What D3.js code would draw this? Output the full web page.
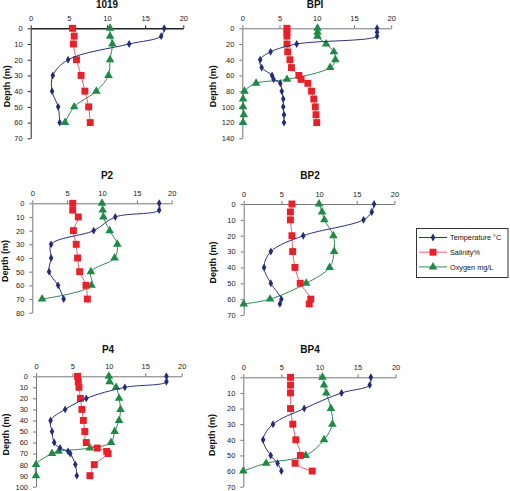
<!DOCTYPE html>
<html><head><meta charset="utf-8">
<script src="https://cdn.jsdelivr.net/npm/d3@7"></script>
<style>
html,body{margin:0;padding:0;background:#fff;}
svg{display:block;font-family:"Liberation Sans",Arial,sans-serif;}
</style></head>
<body><svg id="c" width="510" height="491"></svg>
<script>
// ---- data ----
const stations = ["1019","BPI","P2","BP2","P4","BP4"];
const xTicks = [0,5,10,15,20];
const seriesNames = ["Temperature °C","Salinity%","Oxygen mg/L"];

const depth1019 = [0,5,10,20,30,40,50,60];
const temp1019  = [17.5,17.1,12.9,4.9,2.9,2.8,3.6,3.8];
const sal1019   = [5.5,5.7,5.6,6.0,6.6,7.1,7.6,7.8];
const oxy1019   = [10.4,10.4,10.7,10.4,10.2,8.6,5.7,4.5];

const depthBPI = [0,5,10,20,30,40,50,60,65,70,80,90,100,110,120];
const tempBPI  = [18.1,18.1,18.1,7.3,3.8,2.4,2.6,4.0,4.2,5.1,5.3,5.5,5.5,5.6,5.6];
const salBPI   = [6.0,6.0,6.0,6.0,6.1,6.4,6.6,7.6,7.9,8.8,9.3,9.6,9.8,9.9,10.0];
const oxyBPI   = [10.1,10.1,10.1,11.25,12.3,12.5,11.8,null,6.0,1.85,0.3,0.1,0.1,0.2,0.1];

const depthP2 = [0,5,10,20,30,40,50,60,70];
const tempP2  = [18.2,18.2,11.9,8.8,2.7,2.7,2.4,3.7,4.5];
const salP2   = [5.8,5.8,6.6,5.9,6.3,6.5,6.8,7.7,7.9];
const oxyP2   = [10.0,10.1,10.2,11.1,12.2,11.8,8.4,8.5,1.4];

const depthBP2 = [0,5,10,20,30,40,50,60,63];
const tempBP2  = [17.3,17.0,15.9,7.9,3.6,2.7,3.6,5.0,4.8];
const salBP2   = [6.4,6.2,6.2,6.4,6.5,6.8,7.5,8.9,8.7];
const oxyBP2   = [10.0,10.4,10.7,11.9,12.0,11.4,8.3,3.5,0];

const depthP4 = [0,5,10,20,30,40,50,60,65,68,70,80,90];
const tempP4  = [17.9,17.9,12.2,6.9,4.0,2.0,2.2,2.5,3.3,4.4,4.7,5.4,5.6];
const salP4   = [5.7,5.8,5.9,6.1,6.3,6.5,6.7,6.9,8.4,9.7,9.9,8.0,7.4];
const oxyP4   = [10.0,10.1,11.0,11.4,11.6,11.4,10.8,10.3,7.4,3.1,2.2,0,0];

const depthBP4 = [0,5,10,20,30,40,50,55,60];
const tempBP4  = [16.75,16.6,12.9,8.0,3.9,2.6,3.6,4.5,5.0];
const salBP4   = [6.2,6.2,6.2,6.2,6.5,6.9,7.5,6.8,9.05];
const oxyBP4   = [10.4,10.6,10.9,11.5,11.7,10.6,8.2,3.0,0];

const depthMax = [70,140,80,70,100,70];
const depthStep = [10,20,10,10,10,10];

const stationData = {
  "1019": [depth1019,temp1019,sal1019,oxy1019],
  "BPI":  [depthBPI,tempBPI,salBPI,oxyBPI],
  "P2":   [depthP2,tempP2,salP2,oxyP2],
  "BP2":  [depthBP2,tempBP2,salBP2,oxyBP2],
  "P4":   [depthP4,tempP4,salP4,oxyP4],
  "BP4":  [depthBP4,tempBP4,salBP4,oxyBP4]
};

// ---- layout ----
const layout = [
  {x0:30.7, x1:183.3, y0:28.3, y1:138.3, tx:107, ty:8,   lx:7,   axisCol:"#222"},
  {x0:242.3,x1:391.2, y0:28.3, y1:138.3, tx:315, ty:8,   lx:213, axisCol:"#777"},
  {x0:32.3, x1:171.7, y0:203.3,y1:312.7, tx:107, ty:179, lx:5,   axisCol:"#777"},
  {x0:243.7,x1:394.4, y0:204,  y1:315,   tx:310, ty:179, lx:213, axisCol:"#777"},
  {x0:36,   x1:181.7, y0:376.3,y1:486.7, tx:108, ty:353, lx:6,   axisCol:"#777"},
  {x0:243.3,x1:395.6, y0:377.3,y1:486.7, tx:310, ty:353, lx:212, axisCol:"#777"}
];

const colors = {
  line:["#2b2f7e","#f0606a","#2f8a55"],
  mark:["#262b7a","#e8202a","#1f8a45"]
};
const symbols = [d3.symbolDiamond, d3.symbolSquare, d3.symbolTriangle];
const symSizes = [18, 48, 32];

const svg = d3.select("#c");

stations.forEach((st,i)=>{
  const L = layout[i];
  const [dep, ...series] = stationData[st];
  const x = d3.scaleLinear().domain([0,20]).range([L.x0,L.x1]);
  const y = d3.scaleLinear().domain([0,depthMax[i]]).range([L.y0,L.y1]);
  const g = svg.append("g");

  g.append("text").attr("x",L.tx).attr("y",L.ty).attr("text-anchor","middle")
    .attr("font-size",10).attr("font-weight","bold").attr("fill","#111").text(st);

  const xa = g.append("g").attr("transform",`translate(0,${L.y0})`)
    .call(d3.axisTop(x).tickValues(xTicks).tickSize(3).tickPadding(4).tickSizeOuter(0));
  xa.select(".domain").attr("stroke",L.axisCol).attr("stroke-width", i===0?1.5:1);
  xa.selectAll(".tick line").attr("stroke",L.axisCol);
  xa.selectAll("text").attr("font-size",7.5).attr("fill","#222").attr("font-family","Liberation Sans, Arial, sans-serif");

  const yt = d3.range(0, depthMax[i]+0.001, depthStep[i]);
  const ya = g.append("g").attr("transform",`translate(${L.x0},0)`)
    .call(d3.axisLeft(y).tickValues(yt).tickSize(3).tickPadding(5).tickSizeOuter(0));
  ya.select(".domain").attr("stroke",L.axisCol);
  ya.selectAll(".tick line").attr("stroke",L.axisCol);
  ya.selectAll("text").attr("font-size",7.5).attr("fill","#222").attr("font-family","Liberation Sans, Arial, sans-serif");

  const ly = (L.y0+L.y1)/2 + 3;
  g.append("text").attr("transform",`translate(${L.lx+3},${ly}) rotate(-90)`)
    .attr("text-anchor","middle").attr("font-size",9).attr("font-weight","bold")
    .attr("fill","#111").text("Depth (m)");

  [2,1,0].forEach(k=>{
    const pts = dep.map((d,j)=>({d, v:series[k][j]})).filter(p=>p.v!==null);
    const line = d3.line().x(p=>x(p.v)).y(p=>y(p.d)).curve(d3.curveCatmullRom.alpha(0.5));
    g.append("path").attr("d",line(pts)).attr("fill","none")
      .attr("stroke",colors.line[k]).attr("stroke-width",1);
    g.selectAll(null).data(pts).enter().append("path")
      .attr("d",d3.symbol().type(symbols[k]).size(symSizes[k]))
      .attr("transform",p=>`translate(${x(p.v)},${y(p.d)})`)
      .attr("fill",colors.mark[k]);
  });
});

// legend
const lg = svg.append("g");
lg.append("rect").attr("x",416.5).attr("y",228.5).attr("width",91.5).attr("height",49)
  .attr("fill","#fff").attr("stroke","#333").attr("stroke-width",1);
seriesNames.forEach((n,k)=>{
  const yy = 237.5 + k*14.7;
  lg.append("line").attr("x1",419).attr("x2",447).attr("y1",yy).attr("y2",yy)
    .attr("stroke",colors.line[k]).attr("stroke-width",1);
  lg.append("path").attr("d",d3.symbol().type(symbols[k]).size(symSizes[k]))
    .attr("transform",`translate(433,${yy})`).attr("fill",colors.mark[k]);
  lg.append("text").attr("x",450).attr("y",yy+2.6).attr("font-size",7.3)
    .attr("fill","#111").text(n);
});
</script></body></html>
